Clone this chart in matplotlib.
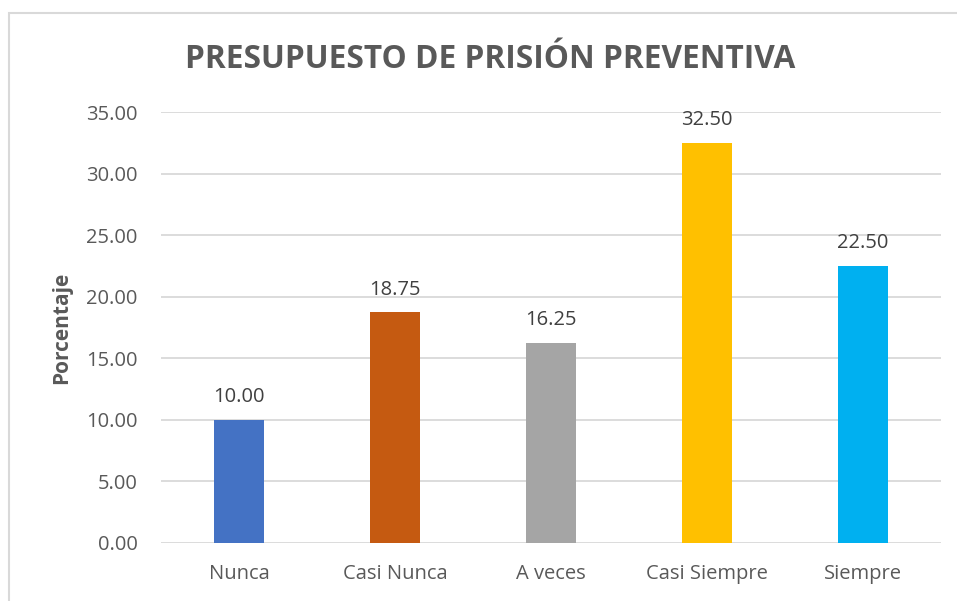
import matplotlib
matplotlib.use("Agg")
import matplotlib.pyplot as plt
from matplotlib.patches import Rectangle

categories = ["Nunca", "Casi Nunca", "A veces", "Casi Siempre", "Siempre"]
values = [10.00, 18.75, 16.25, 32.50, 22.50]
colors = ["#4472C4", "#C55A11", "#A5A5A5", "#FFC000", "#00B0F0"]
yticks = [0, 5, 10, 15, 20, 25, 30, 35]

plt.rcParams['font.family'] = ['Open Sans', 'DejaVu Sans']

fig = plt.figure(figsize=(9.57, 6.01), dpi=100)
ax = fig.add_axes([161/957, 1-543/601, (941-161)/957, (543-112)/601])

x = range(len(categories))
bars = ax.bar(x, values, width=0.315, color=colors, zorder=3)
ax.set_xlim(-0.5, len(categories)-0.5)
ax.set_ylim(0, 35)
ax.set_yticks(yticks)
ax.set_yticklabels([f"{v:.2f}" for v in yticks])
ax.set_xticks(list(x))
ax.set_xticklabels(categories)
ax.tick_params(axis='both', length=0, colors="#595959", labelsize=14.5)
ax.tick_params(axis='y', pad=17)
ax.tick_params(axis='x', pad=15)
ax.grid(axis='y', color="#D9D9D9", linewidth=1.3, zorder=0)
for s in ax.spines.values():
    s.set_visible(False)

for xi, v in zip(x, values):
    ax.annotate(f"{v:.2f}", (xi, v), xytext=(0, 9), textcoords="offset points",
                ha='center', va='bottom', fontsize=14.5, color="#404040")

ax.set_ylabel("Porcentaje", fontsize=15, fontweight='bold', color="#595959", labelpad=10)

fig.text(490/957, 1-60/601, "PRESUPUESTO DE PRISIÓN PREVENTIVA", ha='center', va='center',
         fontsize=22.8, fontweight='bold', color="#595959")

fig.patches.append(Rectangle((9/957, -0.05), 1.0, 1-13/601+0.05, transform=fig.transFigure,
                             fill=False, edgecolor="#D9D9D9", linewidth=1.5, clip_on=False))

fig.savefig("out.png", dpi=100)
